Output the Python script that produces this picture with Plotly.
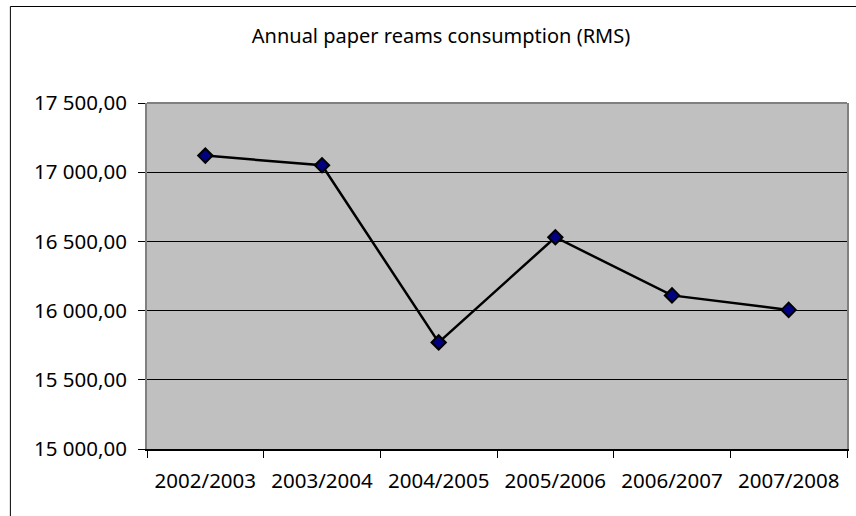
import plotly.graph_objects as go

# Annual consumption of paper reams per school year
seasons = ["2002/2003", "2003/2004", "2004/2005", "2005/2006", "2006/2007", "2007/2008"]
reams = [17120, 17050, 15770, 16530, 16110, 16005]

y_ticks = [15000, 15500, 16000, 16500, 17000, 17500]
y_tick_text = ["15 000,00", "15 500,00", "16 000,00", "16 500,00", "17 000,00", "17 500,00"]

W, H = 856, 516
L, R, T, B = 147, 849, 103, 449
FONT = "Noto Sans"
FS = 20.5


def px_x(p):
    return (p - L) / (R - L)


def px_y(p):
    return (B - p) / (B - T)


fig = go.Figure()
fig.add_trace(go.Scatter(
    x=seasons, y=reams, mode="lines+markers",
    line=dict(color="black", width=2.5),
    marker=dict(symbol="diamond", size=11, color="#000080",
                line=dict(color="black", width=2)),
    showlegend=False, hoverinfo="x+y",
))

fig.update_layout(
    width=W, height=H,
    margin=dict(l=L, r=W - R, t=T, b=H - B, pad=0),
    paper_bgcolor="white",
    plot_bgcolor="#C0C0C0",
    font=dict(family=FONT, size=FS, color="black"),
    title=dict(text="Annual paper reams consumption (RMS)",
               x=441 / W, xanchor="center", y=1 - 36 / H, yanchor="middle",
               font=dict(family=FONT, size=20, color="black")),
    xaxis=dict(
        type="category", range=[-0.5, len(seasons) - 0.5],
        showgrid=False, zeroline=False,
        showline=True, linecolor="black", linewidth=2,
        ticks="outside", tickson="boundaries", ticklen=7, tickcolor="black", tickwidth=1,
        ticklabelstandoff=12,
        tickfont=dict(family=FONT, size=FS, color="black"),
    ),
    yaxis=dict(
        range=[15000, 17500], tickvals=y_ticks, ticktext=y_tick_text,
        showgrid=True, gridcolor="black", gridwidth=1, zeroline=False,
        showline=True, linecolor="#808080", linewidth=2, mirror=True,
        ticks="outside", ticklen=7, tickcolor="black", tickwidth=1,
        ticklabelstandoff=7,
        tickfont=dict(family=FONT, size=FS, color="black"),
    ),
    shapes=[
        # top edge of the plot area
        dict(type="line", xref="paper", yref="paper", x0=0, x1=1, y0=1, y1=1,
             line=dict(color="#808080", width=2)),
        # chart area frame
        dict(type="rect", xref="paper", yref="paper",
             x0=px_x(10), x1=px_x(900), y0=px_y(6.5), y1=px_y(560),
             line=dict(color="black", width=1), fillcolor="rgba(0,0,0,0)"),
    ],
)

fig.write_html("out.html")
